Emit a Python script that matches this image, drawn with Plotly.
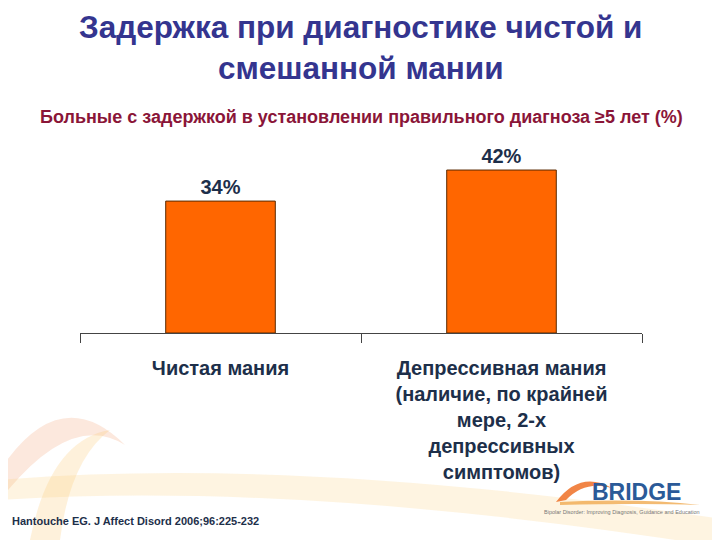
import plotly.graph_objects as go

# data
categories = [
    "Чистая мания",
    "Депрессивная мания<br>(наличие, по крайней<br>мере, 2-х<br>депрессивных<br>симптомов)",
]
values = [34, 42]
value_labels = ["34%", "42%"]

title = "Задержка при диагностике чистой и<br>смешанной мании"
subtitle = "Больные с задержкой в установлении правильного диагноза ≥5 лет (%)"
source = "Hantouche EG. J Affect Disord 2006;96:225-232"

NAVY = "#1d2f4a"
FONT = "Liberation Sans, Arial, sans-serif"

# page has an 8px body margin, so screen coords = figure coords + 8
OFF = 8
PL, PR, PT, PB = 80 - OFF, 642 - OFF, 139 - OFF, 333 - OFF


def px(x):
    return (x - OFF - PL) / (PR - PL)


def py(y):
    return (PB - (y - OFF)) / (PB - PT)


fig = go.Figure()
fig.add_trace(go.Bar(
    x=categories,
    y=values,
    text=[f"<b>{t}</b>" for t in value_labels],
    textposition="outside",
    textfont=dict(size=20, color=NAVY, family=FONT),
    cliponaxis=False,
    marker=dict(color="#ff6600", line=dict(color="#5a2a00", width=1)),
    width=0.39,
    hoverinfo="skip",
))

# faint decorative swooshes (screen pixel coords)
swooshes = [
    ("M 0 470 Q 60 380 125 445 Q 70 410 0 500 Z", "rgba(240,150,100,0.22)"),
    ("M 30 540 Q 50 440 110 430 Q 70 460 60 540 Z", "rgba(250,200,110,0.25)"),
    ("M 0 480 Q 300 455 728 520 L 728 548 Q 300 480 0 500 Z", "rgba(250,205,120,0.22)"),
    ("M 556 502 Q 580 470 612 488 Q 585 480 566 500 Z", "rgba(240,120,50,0.9)"),
    ("M 560 502 Q 640 498 700 505 Q 640 503 560 505 Z", "rgba(240,170,80,0.8)"),
]
shapes = []
for p, c in swooshes:
    toks = p.split()
    out = []
    i = 0
    while i < len(toks):
        t = toks[i]
        if t.isalpha():
            out.append(t)
            i += 1
        else:
            out.append(f"{px(float(toks[i])):.4f},{py(float(toks[i + 1])):.4f}")
            i += 2
    shapes.append(dict(type="path", path=" ".join(out), xref="paper", yref="paper",
                       fillcolor=c, line=dict(width=0), layer="below"))

fig.update_layout(
    width=720,
    height=540,
    margin=dict(l=PL, r=720 - PR, t=PT, b=540 - PB),
    paper_bgcolor="white",
    plot_bgcolor="white",
    showlegend=False,
    font=dict(family=FONT, color=NAVY),
    shapes=shapes,
    xaxis=dict(
        showline=True, linecolor="#444444", linewidth=1,
        ticks="outside", tickson="boundaries", ticklen=9, tickcolor="#444444",
        tickfont=dict(size=20, color=NAVY, family=FONT),
        ticklabelstandoff=17,
        tickvals=categories,
        ticktext=[f"<b>{c}</b>".replace("<br>", "</b><br><b>") for c in categories],
        showgrid=False,
    ),
    yaxis=dict(range=[0, 50], visible=False, showgrid=False, zeroline=False),
)

fig.add_annotation(text=f"<b>{title}</b>".replace("<br>", "</b><br><b>"),
                   xref="paper", yref="paper",
                   x=px(360), y=py(48), xanchor="center", yanchor="middle",
                   showarrow=False, align="center",
                   font=dict(size=31.5, color="#34358f", family=FONT))
fig.add_annotation(text=f"<b>{subtitle}</b>", xref="paper", yref="paper",
                   x=px(361), y=py(117), xanchor="center", yanchor="middle",
                   showarrow=False,
                   font=dict(size=18, color="#8a1538", family=FONT))
fig.add_annotation(text=f"<b>{source}</b>", xref="paper", yref="paper",
                   x=px(10), y=py(521), xanchor="left", yanchor="middle",
                   showarrow=False,
                   font=dict(size=11, color=NAVY, family=FONT))
# BRIDGE logo
fig.add_annotation(text="<b>BRIDGE</b>", xref="paper", yref="paper",
                   x=px(636), y=py(492), xanchor="center", yanchor="middle",
                   showarrow=False,
                   font=dict(size=23, color="#2b5a98", family=FONT))
fig.add_annotation(text="Bipolar Disorder: Improving Diagnosis, Guidance and Education",
                   xref="paper", yref="paper",
                   x=px(622), y=py(512), xanchor="center", yanchor="middle",
                   showarrow=False,
                   font=dict(size=5.5, color="#777777", family=FONT))

fig.write_html("out.html")
